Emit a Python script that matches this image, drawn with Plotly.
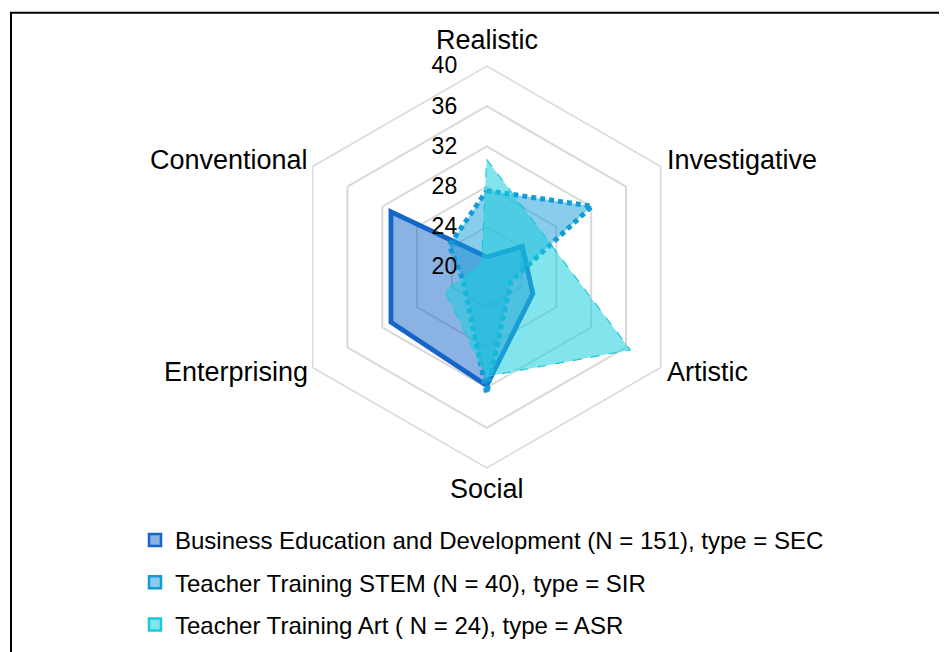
import math
import plotly.graph_objects as go

categories = ["Realistic", "Investigative", "Artistic", "Social", "Enterprising", "Conventional"]
business = [21.0, 24.1, 25.3, 31.8, 31.0, 31.0]
stem = [27.6, 32.1, 22.8, 32.6, 22.7, 24.3]
art = [30.7, 26.5, 36.5, 30.9, 24.8, 20.6]
series_names = [
    "Business Education and Development (N = 151), type = SEC",
    "Teacher Training STEM (N = 40), type = SIR",
    "Teacher Training Art ( N = 24), type = ASR",
]
radial_ticks = [20, 24, 28, 32, 36, 40]

line_colors = ["#1565C8", "#119BD8", "#1CC9D9"]
fill_colors = ["rgba(21,101,200,0.5)", "rgba(17,155,216,0.5)", "rgba(28,205,220,0.55)"]
dashes = ["solid", "5px,4px", "dash"]
widths = [4.8, 5, 1.2]

FONT = "Arial, Liberation Sans, sans-serif"
W, H = 947, 652
CX, CY, R = 478.7, 259.0, 201.0  # polar centre / radius in page pixels

fig = go.Figure()
for vals, name, lc, fc, d, w in zip([business, stem, art], series_names, line_colors, fill_colors, dashes, widths):
    fig.add_trace(go.Scatterpolar(
        r=vals + vals[:1], theta=categories + categories[:1],
        mode="lines", fill="toself", fillcolor=fc,
        line=dict(color=lc, width=w, dash=d),
        name=name, showlegend=False, hoverinfo="skip",
    ))

for i, (name, lc, fc) in enumerate(zip(series_names, line_colors, fill_colors)):
    fig.add_trace(go.Scatterpolar(
        r=[None], theta=[categories[0]], mode="markers",
        marker=dict(symbol="square", size=12, color=fc, line=dict(color=lc, width=2.5)),
        name=name, legendgroup=f"g{i}", showlegend=True,
    ))

# category labels placed around the hexagon
annotations = []
label_r = [227, 0, 0, 222, 0, 0]
for k, cat in enumerate(categories):
    ang = math.radians(90 - 60 * k)
    if k in (0, 3):
        x = CX
        y = CY - label_r[k] * math.sin(ang)
        xa = "center"
    else:
        side = 1 if math.cos(ang) > 0 else -1
        x = CX + side * (178.0 if side > 0 else 176.5)
        y = CY - 106 * (1 if math.sin(ang) > 0 else -1) - 1
        xa = "left" if side > 0 else "right"
    annotations.append(dict(
        text=cat, x=x / W, y=1 - y / H, xref="paper", yref="paper",
        xanchor=xa, yanchor="middle", showarrow=False,
        font=dict(size=27, family=FONT, color="black"),
    ))

nb = "\u00a0" * 4
fig.update_layout(
    width=W, height=H,
    margin=dict(l=0, r=0, t=0, b=0),
    paper_bgcolor="white", plot_bgcolor="white",
    font=dict(family=FONT, color="black", size=21),
    polar=dict(
        domain=dict(x=[(CX - R) / W, (CX + R) / W], y=[(H - CY - R) / H, (H - CY + R) / H]),
        bgcolor="white",
        gridshape="linear",
        radialaxis=dict(
            range=[20, 40], tickvals=radial_ticks, ticktext=[str(t) + nb for t in radial_ticks],
            angle=90, tickangle=90, side="counterclockwise",
            showline=False, ticks="", gridcolor="#d9d9d9", gridwidth=1.5,
            tickfont=dict(size=23, family=FONT, color="black"),
        ),
        angularaxis=dict(
            direction="clockwise", rotation=90,
            showgrid=False, showline=True, linecolor="#d9d9d9", linewidth=1.5,
            ticks="", showticklabels=False,
        ),
    ),
    annotations=annotations,
    legend=dict(
        x=127 / W, y=1 - 510 / H, xanchor="left", yanchor="top",
        orientation="v", traceorder="grouped", tracegroupgap=8,
        font=dict(size=24, family=FONT, color="black"),
        bgcolor="rgba(0,0,0,0)",
    ),
    shapes=[dict(
        type="rect", xref="paper", yref="paper",
        x0=3 / W, x1=1.05, y0=-0.05, y1=1 - 4.7 / H,
        line=dict(color="black", width=2), fillcolor="rgba(0,0,0,0)", layer="above",
    )],
)

fig.write_html("out.html")
